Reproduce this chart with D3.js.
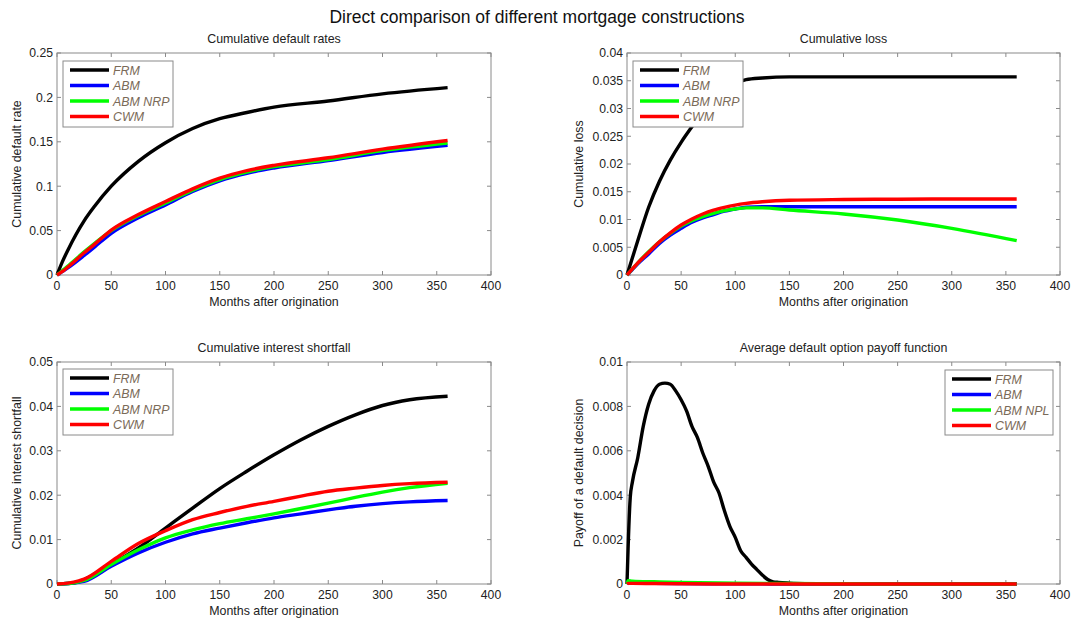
<!DOCTYPE html>
<html>
<head>
<meta charset="utf-8">
<script src="https://cdn.jsdelivr.net/npm/d3@7"></script>
<style>
  body { margin: 0; background: #fff; }
  svg { font-family: "Liberation Sans", Arial, sans-serif; }
</style>
</head>
<body>
<div id="chart"></div>
<script>
const width = 1074;
const height = 618;

const seriesNames = ["FRM", "ABM", "ABM NRP", "CWM"];
const payoffNames = ["FRM", "ABM", "ABM NPL", "CWM"];
const seriesColors = ["#000000", "#0000ff", "#00ff00", "#ff0000"];
const monthTicks = [0, 50, 100, 150, 200, 250, 300, 350, 400];

// cumulative default rates
const defaultMonths = [0, 5, 10, 25, 35, 50, 75, 100, 125, 150, 175, 200, 250, 300, 360];
const defaultFRM = [0, 0.015, 0.028, 0.061, 0.078, 0.1, 0.128, 0.149, 0.165, 0.176, 0.183, 0.189, 0.196, 0.204, 0.211];
const defaultABM = [0, 0.004, 0.008, 0.022, 0.032, 0.047, 0.0645, 0.079, 0.094, 0.106, 0.1145, 0.1205, 0.129, 0.138, 0.146];
const defaultNRP = [0, 0.005, 0.01, 0.026, 0.036, 0.05, 0.067, 0.081, 0.0955, 0.1075, 0.116, 0.122, 0.13, 0.14, 0.1485];
const defaultCWM = [0, 0.004, 0.009, 0.025, 0.035, 0.0505, 0.068, 0.0827, 0.097, 0.109, 0.1175, 0.1235, 0.132, 0.1417, 0.1515];
const defaultTicks = [0, 0.05, 0.1, 0.15, 0.2, 0.25];

// cumulative loss
const lossMonths = [0, 5, 10, 20, 30, 40, 50, 60, 70, 80, 90, 100, 110, 125, 150, 200, 250, 300, 360];
const lossFRM = [0, 0.0031, 0.0062, 0.0122, 0.0169, 0.0207, 0.0239, 0.0267, 0.0293, 0.0316, 0.0333, 0.0345, 0.0352, 0.0355, 0.0357, 0.0357, 0.0357, 0.0357, 0.0357];
const lossABM = [0, 0.001, 0.002, 0.0038, 0.0057, 0.0072, 0.0084, 0.0095, 0.0103, 0.0109, 0.0115, 0.0119, 0.0122, 0.0123, 0.0123, 0.0123, 0.0123, 0.0123, 0.0123];
const lossNRP = [0, 0.0011, 0.0022, 0.0042, 0.006, 0.0075, 0.0088, 0.0098, 0.0105, 0.0111, 0.0116, 0.0119, 0.0121, 0.0121, 0.0117, 0.011, 0.0099, 0.0084, 0.0062];
const lossCWM = [0, 0.0011, 0.0022, 0.0041, 0.006, 0.0076, 0.009, 0.0101, 0.011, 0.0117, 0.0122, 0.0126, 0.0129, 0.0132, 0.01347, 0.0136, 0.01366, 0.0137, 0.0137];
const lossTicks = [0, 0.005, 0.01, 0.015, 0.02, 0.025, 0.03, 0.035, 0.04];

// cumulative interest shortfall
const shortMonths = [0, 10, 20, 25, 50, 75, 100, 125, 150, 175, 200, 225, 250, 275, 300, 325, 360];
const shortFRM = [0, 0.0001, 0.0005, 0.001, 0.0044, 0.0081, 0.0126, 0.0171, 0.0215, 0.0254, 0.0291, 0.0325, 0.0355, 0.0381, 0.0402, 0.0415, 0.0423];
const shortABM = [0, 0.0001, 0.0004, 0.0006, 0.004, 0.007, 0.0094, 0.0113, 0.0126, 0.0138, 0.0149, 0.0158, 0.0167, 0.0175, 0.0181, 0.0185, 0.0188];
const shortNRP = [0, 0.0001, 0.0005, 0.0008, 0.0044, 0.0077, 0.0104, 0.0122, 0.0136, 0.0147, 0.0158, 0.017, 0.0182, 0.0195, 0.0207, 0.0217, 0.0227];
const shortCWM = [0, 0.0002, 0.0007, 0.0011, 0.0051, 0.0091, 0.012, 0.0145, 0.0161, 0.0175, 0.0186, 0.0198, 0.0209, 0.0216, 0.0222, 0.0226, 0.0229];
const shortTicks = [0, 0.01, 0.02, 0.03, 0.04, 0.05];

// average default option payoff
const payoffMonths = [0, 1, 3, 5, 10, 15, 20, 25, 30, 35, 40, 45, 50, 55, 60, 65, 70, 75, 80, 85, 90, 95, 100, 105, 110, 115, 120, 125, 130, 135, 140, 150, 175, 200, 250, 300, 360];
const payoffFRM = [0, 0.0016, 0.0039, 0.0046, 0.0057, 0.0071, 0.0081, 0.0087, 0.009, 0.00905, 0.009, 0.0087, 0.0083, 0.0078, 0.0071, 0.0066, 0.0059, 0.0053, 0.0046, 0.0041, 0.0033, 0.0026, 0.0021, 0.0015, 0.0012, 0.0009, 0.00065, 0.0004, 0.0002, 0.0001, 0.00007, 0.00004, 0.00001, 0, 0, 0, 0];
const payoffMonthsLow = [0, 1, 5, 25, 50, 100, 150, 200, 250, 300, 360];
const payoffABM = [0, 0.00004, 0.00004, 0.00003, 0.00002, 0.00001, 0, 0, 0, 0, 0];
const payoffNPL = [0, 0.00015, 0.00013, 0.0001, 0.00007, 0.00004, 0.00002, 0.00001, 0, 0, 0];
const payoffCWM = [0, 0.00003, 0.00003, 0.00002, 0.00001, 0, 0, 0, 0, 0, 0];
const payoffTicks = [0, 0.002, 0.004, 0.006, 0.008, 0.01];

const svg = d3.select("#chart")
  .append("svg")
  .attr("width", width)
  .attr("height", height);

svg.append("text")
  .attr("x", 537)
  .attr("y", 23)
  .attr("text-anchor", "middle")
  .attr("font-size", 17.5)
  .attr("fill", "#111")
  .text("Direct comparison of different mortgage constructions");

const panels = [
  {
    box: { left: 57, right: 491, top: 53, bottom: 275 },
    title: "Cumulative default rates", ylabel: "Cumulative default rate", ylabelOffset: 36,
    yTicks: defaultTicks, yMax: 0.25,
    series: [[defaultMonths, defaultFRM], [defaultMonths, defaultABM], [defaultMonths, defaultNRP], [defaultMonths, defaultCWM]],
    names: seriesNames, legend: { x: 63, y: 61, w: 110, h: 66 }
  },
  {
    box: { left: 627, right: 1060, top: 53, bottom: 275 },
    title: "Cumulative loss", ylabel: "Cumulative loss", ylabelOffset: 44,
    yTicks: lossTicks, yMax: 0.04,
    series: [[lossMonths, lossFRM], [lossMonths, lossABM], [lossMonths, lossNRP], [lossMonths, lossCWM]],
    names: seriesNames, legend: { x: 633, y: 61, w: 110, h: 66 }
  },
  {
    box: { left: 57, right: 491, top: 362, bottom: 584 },
    title: "Cumulative interest shortfall", ylabel: "Cumulative interest shortfall", ylabelOffset: 36,
    yTicks: shortTicks, yMax: 0.05,
    series: [[shortMonths, shortFRM], [shortMonths, shortABM], [shortMonths, shortNRP], [shortMonths, shortCWM]],
    names: seriesNames, legend: { x: 63, y: 369, w: 110, h: 66 }
  },
  {
    box: { left: 627, right: 1060, top: 362, bottom: 584 },
    title: "Average default option payoff function", ylabel: "Payoff of a default decision", ylabelOffset: 44,
    yTicks: payoffTicks, yMax: 0.01,
    series: [[payoffMonths, payoffFRM], [payoffMonthsLow, payoffABM], [payoffMonthsLow, payoffNPL], [payoffMonthsLow, payoffCWM]],
    names: payoffNames, legend: { x: 945, y: 370, w: 108, h: 65 }
  }
];

panels.forEach(drawPanel);

function drawPanel(p) {
  const b = p.box;
  const g = svg.append("g");

  const x = d3.scaleLinear().domain([0, 400]).range([b.left, b.right]);
  const y = d3.scaleLinear().domain([0, p.yMax]).range([b.bottom, b.top]);

  // axes box, ticks inside on all four sides
  g.append("rect")
    .attr("x", b.left).attr("y", b.top)
    .attr("width", b.right - b.left).attr("height", b.bottom - b.top)
    .attr("fill", "none").attr("stroke", "#8a8a8a");

  const tickLen = 4;
  g.selectAll(".xt").data(monthTicks).join("path")
    .attr("d", d => `M${x(d)},${b.bottom}v${-tickLen}M${x(d)},${b.top}v${tickLen}`)
    .attr("stroke", "#8a8a8a");
  g.selectAll(".yt").data(p.yTicks).join("path")
    .attr("d", d => `M${b.left},${y(d)}h${tickLen}M${b.right},${y(d)}h${-tickLen}`)
    .attr("stroke", "#8a8a8a");

  g.selectAll(".xl").data(monthTicks).join("text")
    .attr("x", d => x(d)).attr("y", b.bottom + 15)
    .attr("text-anchor", "middle").attr("font-size", 12.2).attr("fill", "#222")
    .text(d => d);
  g.selectAll(".yl").data(p.yTicks).join("text")
    .attr("x", b.left - 4).attr("y", d => y(d) + 4.3)
    .attr("text-anchor", "end").attr("font-size", 12.2).attr("fill", "#222")
    .text(d => d3.format("")(+d.toPrecision(3)));

  g.append("text")
    .attr("x", (b.left + b.right) / 2).attr("y", b.top - 10)
    .attr("text-anchor", "middle").attr("font-size", 12.4).attr("fill", "#222")
    .text(p.title);
  g.append("text")
    .attr("x", (b.left + b.right) / 2).attr("y", b.bottom + 31)
    .attr("text-anchor", "middle").attr("font-size", 12.4).attr("fill", "#222")
    .text("Months after origination");
  g.append("text")
    .attr("transform", `translate(${b.left - p.ylabelOffset},${(b.top + b.bottom) / 2}) rotate(-90)`)
    .attr("text-anchor", "middle").attr("font-size", 12.4).attr("fill", "#222")
    .text(p.ylabel);

  const line = d3.line()
    .x(d => x(d[0]))
    .y(d => y(d[1]))
    .curve(d3.curveMonotoneX);

  p.series.forEach((s, i) => {
    const pts = s[0].map((m, k) => [m, s[1][k]]);
    g.append("path")
      .datum(pts)
      .attr("d", line)
      .attr("fill", "none")
      .attr("stroke", seriesColors[i])
      .attr("stroke-width", 3.4)
      .attr("stroke-linejoin", "round");
  });

  // legend
  const L = p.legend;
  const lg = g.append("g").attr("transform", `translate(${L.x},${L.y})`);
  lg.append("rect")
    .attr("width", L.w).attr("height", L.h)
    .attr("fill", "#fff").attr("stroke", "#8a8a8a");
  const rowStep = 15.5;
  p.names.forEach((name, i) => {
    const ry = 9 + i * rowStep;
    lg.append("line")
      .attr("x1", 7).attr("x2", 46).attr("y1", ry).attr("y2", ry)
      .attr("stroke", seriesColors[i]).attr("stroke-width", 3.5);
    lg.append("text")
      .attr("x", 50).attr("y", ry + 4.5)
      .attr("font-size", 12.4).attr("font-style", "italic").attr("fill", "#7a6a58")
      .text(name);
  });
}
</script>
</body>
</html>
